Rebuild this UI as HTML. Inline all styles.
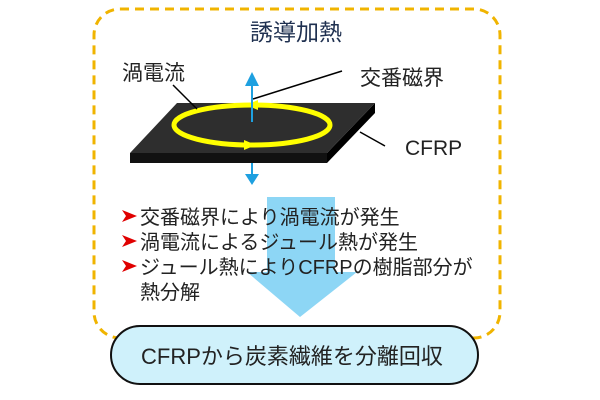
<!DOCTYPE html>
<html><head><meta charset="utf-8"><style>
body{margin:0;width:600px;height:400px;background:#fff;overflow:hidden;font-family:"Liberation Sans","Noto Sans CJK JP",sans-serif}
</style></head><body>
<svg width="600" height="400" xmlns="http://www.w3.org/2000/svg" style="position:absolute;left:0;top:0">
<rect x="94" y="9" width="406" height="329" rx="26" fill="none" stroke="#f0b400" stroke-width="3" stroke-dasharray="9,6"/>
<text x="296" y="40" text-anchor="middle" font-size="23" fill="#1f3050" font-family="Liberation Sans, Noto Sans CJK JP, sans-serif">誘導加熱</text>
<!-- big arrow -->
<polygon points="267,197 335,197 335,272 357,272 300,317 247,272 267,272" fill="#8dd6f5"/>
<!-- plate -->
<polygon points="130,153 327,153 327,163 130,163" fill="#111"/>
<polygon points="327,153 375,103 375,113 327,163" fill="#000"/>
<polygon points="177,103 375,103 327,153 130,153" fill="#2e2e2e"/>
<ellipse cx="252" cy="125" rx="78" ry="20" fill="none" stroke="#ffff00" stroke-width="5"/>
<polygon points="244,145 256,140 256,150" fill="#ffff00" transform="rotate(180 250 145)"/>
<polygon points="258,105 246,100 246,110" fill="#ffff00" transform="rotate(180 252 105)"/>
<!-- blue arrows -->
<line x1="252" y1="122" x2="252" y2="84" stroke="#1ea0e0" stroke-width="2"/>
<polygon points="245,86 259,86 252,72" fill="#1ea0e0"/>
<line x1="252" y1="163" x2="252" y2="176" stroke="#1ea0e0" stroke-width="2"/>
<polygon points="245,174 259,174 252,185" fill="#1ea0e0"/>
<!-- leaders -->
<line x1="173" y1="85" x2="197" y2="109" stroke="#000" stroke-width="1.5"/>
<line x1="342" y1="71" x2="253" y2="99" stroke="#000" stroke-width="1.5"/>
<line x1="360" y1="132" x2="385" y2="146" stroke="#000" stroke-width="1.5"/>
<g font-size="21" fill="#222" font-family="Liberation Sans, Noto Sans CJK JP, sans-serif">
<text x="122" y="80">渦電流</text>
<text x="360" y="85">交番磁界</text>
<text x="405" y="155">CFRP</text>
<text x="140" y="224" font-size="20">交番磁界により渦電流が発生</text>
<text x="140" y="249" font-size="20">渦電流によるジュール熱が発生</text>
<text x="140" y="274" font-size="20">ジュール熱によりCFRPの樹脂部分が</text>
<text x="140" y="299" font-size="20">熱分解</text>
</g>
<g fill="#e00000">
<polygon points="122,210 137,216 122,222 126,216"/>
<polygon points="122,235 137,241 122,247 126,241"/>
<polygon points="122,260 137,266 122,272 126,266"/>
</g>
<rect x="111" y="326" width="367" height="58" rx="29" fill="#cff1fb" stroke="#111" stroke-width="2"/>
<text x="292" y="364" text-anchor="middle" font-size="22" fill="#222" font-family="Liberation Sans, Noto Sans CJK JP, sans-serif">CFRPから炭素繊維を分離回収</text>
</svg>
</body></html>
